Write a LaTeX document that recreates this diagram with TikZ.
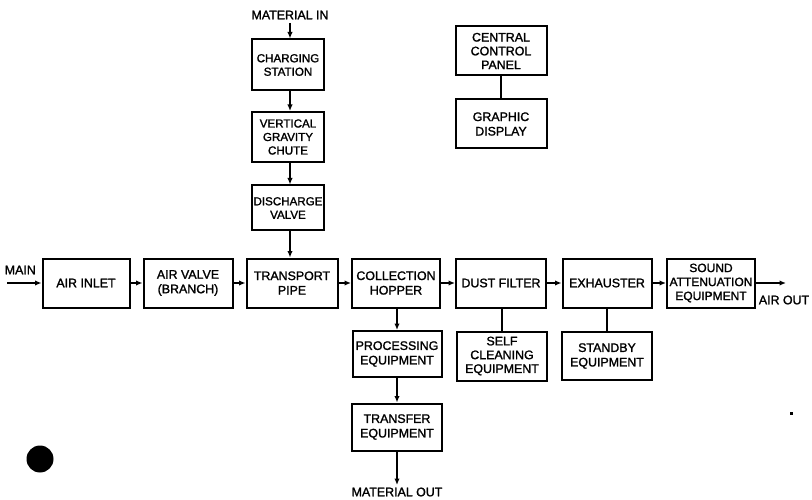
\documentclass[tikz,border=0pt]{standalone}
\usepackage{fontspec}
\setmainfont{Liberation Sans}[FakeBold=1.5]
\usetikzlibrary{arrows.meta}
\begin{document}
\begin{tikzpicture}[x=1pt,y=-1pt,
  blk/.style={draw,line width=2pt,inner sep=0pt,align=center,
    font=\fontsize{12.4}{14.5}\selectfont,minimum height=49pt},
  colblk/.style={blk,font=\fontsize{11.6}{13.5}\selectfont},
  lbl/.style={inner sep=0pt,font=\fontsize{12.4}{14.5}\selectfont},
  flow/.style={line width=2pt,-{Latex[length=6.5pt,width=5.5pt]}},
  link/.style={line width=2pt}]
\useasboundingbox (0,0) rectangle (812,500);
% main row
\node[blk,minimum width=87pt] (inlet) at (86,283) {AIR INLET};
\node[blk,minimum width=89pt] (valve) at (188,283) {AIR VALVE\\(BRANCH)};
\node[blk,minimum width=91pt] (pipe) at (292,283) {TRANSPORT\\PIPE};
\node[blk,minimum width=88pt] (hopper) at (396,283) {COLLECTION\\HOPPER};
\node[blk,minimum width=90pt] (dust) at (501,283) {DUST FILTER};
\node[blk,minimum width=89pt] (exh) at (607,283) {EXHAUSTER};
\node[blk,minimum width=88pt,font=\fontsize{12}{14}\selectfont] (sound) at (711,283) {SOUND\\ATTENUATION\\EQUIPMENT};
% vertical column
\node[colblk,minimum width=72pt,minimum height=51pt] (charge) at (288,65) {CHARGING\\STATION};
\node[colblk,minimum width=72pt,minimum height=50pt] (chute) at (288,137) {VERTICAL\\GRAVITY\\CHUTE};
\node[colblk,minimum width=72pt,minimum height=45pt] (disch) at (288,208) {DISCHARGE\\VALVE};
% lower boxes
\node[blk,minimum width=89pt,minimum height=46pt] (proc) at (397,354) {PROCESSING\\EQUIPMENT};
\node[blk,minimum width=90pt,minimum height=49pt,font=\fontsize{12.4}{13.8}\selectfont] (self) at (502,356) {SELF\\CLEANING\\EQUIPMENT};
\node[blk,minimum width=90pt,minimum height=48pt] (stand) at (607,356) {STANDBY\\EQUIPMENT};
\node[blk,minimum width=90pt,minimum height=47pt] (trans) at (397,427) {TRANSFER\\EQUIPMENT};
% control
\node[blk,minimum width=91pt,font=\fontsize{12.4}{13.8}\selectfont] (ctrl) at (501,51) {CENTRAL\\CONTROL\\PANEL};
\node[blk,minimum width=91pt] (disp) at (501,124) {GRAPHIC\\DISPLAY};
% labels
\node[lbl,anchor=east] (main) at (36,270) {MAIN};
\node[lbl] (matin) at (290,15) {MATERIAL IN};
\node[lbl] (matout) at (397,492) {MATERIAL OUT};
\node[lbl] (airout) at (784,300) {AIR OUT};
\coordinate (mainstart) at (7,283);
\coordinate (inend) at (290,23);
\coordinate (outend) at (397,485);
\coordinate (airend) at (786,283);
% connectors
\draw[flow] (mainstart) -- (inlet.west);
\draw[flow] (inlet) -- (valve);
\draw[flow] (valve) -- (pipe);
\draw[flow] (pipe) -- (hopper);
\draw[flow] (hopper) -- (dust);
\draw[flow] (dust) -- (exh);
\draw[flow] (exh) -- (sound);
\draw[flow] (sound.east) -- (airend);
\draw[flow] (inend) -- (inend |- charge.north);
\draw[flow] (charge.south -| inend) -- (inend |- chute.north);
\draw[flow] (chute.south -| inend) -- (inend |- disch.north);
\draw[flow] (disch.south -| inend) -- (inend |- pipe.north);
\draw[flow] (hopper.south -| proc.north) -- (proc.north);
\draw[flow] (proc.south -| trans.north) -- (trans.north);
\draw[flow] (trans.south) -- (outend);
\draw[link] (dust.south -| self.north) -- (self.north);
\draw[link] (exh.south -| stand.north) -- (stand.north);
\draw[link] (ctrl) -- (disp);
% marks
\fill (40,459) circle (13.5pt);
\fill (790,411.5) rectangle (792.5,414.5);
\end{tikzpicture}
\end{document}
